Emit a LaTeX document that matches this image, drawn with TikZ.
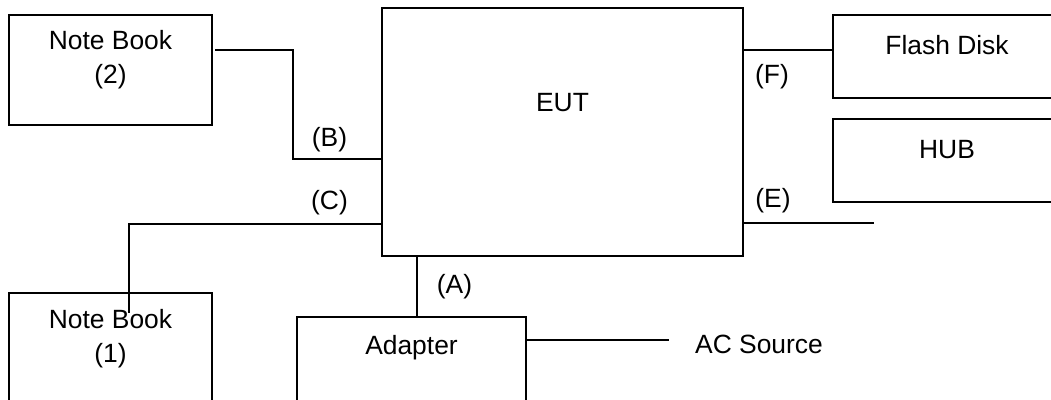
\documentclass[tikz,border=0pt]{standalone}
\usepackage{fontspec}
\setmainfont{Liberation Sans}
\begin{document}
\begin{tikzpicture}[x=1pt,y=-1pt,
  box/.style={draw,line width=1.4pt,inner sep=0pt,minimum width=#1},
  txt/.style={inner sep=0pt,font=\fontsize{26.4}{34}\selectfont,align=center},
  wire/.style={line width=1.4pt}]
\useasboundingbox (0,0) rectangle (1051,399);
\clip (0,0) rectangle (1051,399);
% boxes
\node[box=361pt,minimum height=248pt] (eut) at (562.5,132) {};
\node[box=203pt,minimum height=110pt] (nb2) at (110.5,70) {};
\node[box=203pt,minimum height=137pt] (nb1) at (110.5,361.5) {};
\node[box=229pt,minimum height=113pt] (adapter) at (411.5,373.5) {};
\node[box=267pt,minimum height=83pt] (flash) at (966.5,56.5) {};
\node[box=267pt,minimum height=83pt] (hub) at (966.5,160.5) {};
% texts
\node[txt,anchor=base] (teut) at (562.5,111) {EUT};
\node[txt] (tnb2) at (110.5,60) {Note Book\\(2)};
\node[txt] (tnb1) at (110.5,338.5) {Note Book\\(1)};
\node[txt,anchor=base] (tad) at (411.5,354) {Adapter};
\node[txt,anchor=base] (tflash) at (947,54) {Flash Disk};
\node[txt,anchor=base] (thub) at (947,158) {HUB};
\node[txt,anchor=base west] (ac) at (695,353) {AC Source};
\node[txt] (lB) at (329.5,139.5) {(B)};
\node[txt] (lC) at (329.5,202.5) {(C)};
\node[txt] (lF) at (772,77) {(F)};
\node[txt] (lE) at (773,201) {(E)};
\node[txt] (lA) at (454.5,287) {(A)};
% connector coordinates
\coordinate (b0) at (215,50);
\coordinate (b1) at (293,159);
\coordinate (cy) at (0,224);
\coordinate (c1) at (129,313);
\coordinate (ax) at (417,0);
\coordinate (acy) at (0,340);
\coordinate (acend) at (669,340);
\coordinate (fy) at (0,50);
\coordinate (ey) at (0,223);
\coordinate (eend) at (874,223);
% connectors
\draw[wire] (b0) -| (b1) -- (eut.west |- b1);
\draw[wire] (eut.west |- cy) -| (c1);
\draw[wire] (eut.south -| ax) -- (adapter.north -| ax);
\draw[wire] (adapter.east |- acy) -- (acend);
\draw[wire] (eut.east |- fy) -- (flash.west |- fy);
\draw[wire] (eut.east |- ey) -- (eend);
\end{tikzpicture}
\end{document}
